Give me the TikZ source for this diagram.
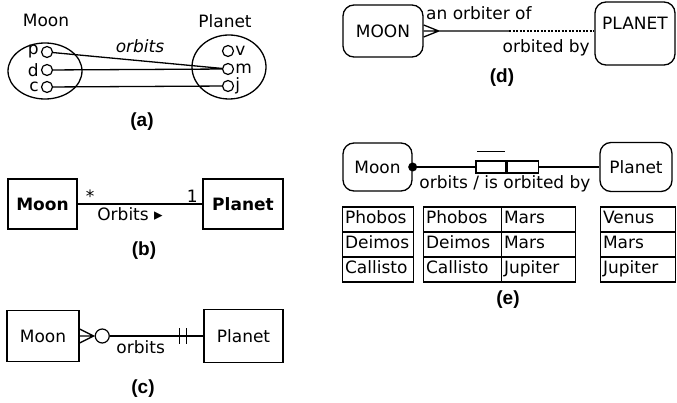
\documentclass[tikz,border=0pt]{standalone}
\usepackage{fontspec}
\setmainfont{DejaVu Sans}
\newfontfamily\tagfont{Liberation Sans}
\usetikzlibrary{calc}

\tikzset{
  txt/.style={font=\fontsize{17}{20}\selectfont,inner sep=1pt},
  itxt/.style={font=\fontsize{17}{20}\selectfont\itshape,inner sep=1pt},
  tag/.style={font=\fontsize{19}{22}\selectfont\tagfont\bfseries},
  ent/.style={draw,line width=1.3pt,font=\fontsize{17}{20}\selectfont},
  bent/.style={ent,font=\fontsize{17}{20}\selectfont\bfseries},
  rent/.style={ent,rounded corners=11pt},
  pin/.style={draw,circle,line width=1.2pt,minimum size=11pt,inner sep=0pt},
  rel/.style={line width=1.3pt},
  cell/.style={draw,line width=1.1pt,anchor=west,inner xsep=2.5pt,inner ysep=0pt,
    minimum height=25pt,text height=12.5pt,text depth=3.5pt,align=left,
    font=\fontsize{17}{20}\selectfont},
}

\begin{document}
\begin{tikzpicture}[x=1pt,y=-1pt]
 \useasboundingbox (0,0) rectangle (677,403);
 % ---- (a) sets
 \begin{scope}
  \draw[line width=1.3pt] (45,71) ellipse (37pt and 28pt);
  \draw[line width=1.3pt] (229,67) ellipse (37pt and 32pt);
  \node[txt] (moonA) at (46,20) {Moon};
  \node[txt] (planetA) at (225,21) {Planet};
  \node[pin,label={[txt,label distance=1pt]left:p}] (p) at (47,52) {};
  \node[pin,label={[txt,label distance=1pt]left:d}] (d) at (47,70) {};
  \node[pin,label={[txt,label distance=1pt]left:c}] (c) at (47,87) {};
  \node[pin,label={[txt,label distance=0pt]right:v}] (v) at (228,51) {};
  \node[pin,label={[txt,label distance=0pt]right:m}] (m) at (228,69) {};
  \node[pin,label={[txt,label distance=0pt]right:j}] (j) at (228,86) {};
  \draw[rel] (p) -- (m) (d) -- (m) (c) -- (j);
  \node[itxt] (orbA) at (140,46) {orbits};
  \node[tag] (tagA) at (142,122) {(a)};
 \end{scope}
 % ---- (b) uml
 \begin{scope}
  \node[bent,minimum width=69pt,minimum height=50pt] (moonB) at (42.5,204) {Moon};
  \node[bent,minimum width=80pt,minimum height=50pt] (planetB) at (243,204) {Planet};
  \draw[rel] (moonB) -- (planetB)
    node[txt,pos=0.1,above] {*}
    node[txt,pos=0.92,above] {1}
    node[txt,pos=0.42,below=2pt] {Orbits ▸};
  \node[tag] (tagB) at (144,251) {(b)};
 \end{scope}
 % ---- (c) crow's foot
 \begin{scope}
  \node[ent,minimum width=72pt,minimum height=51pt] (moonC) at (43,336) {Moon};
  \node[ent,minimum width=79pt,minimum height=53pt] (planetC) at (243.5,336) {Planet};
  \coordinate (toeC) at ($(moonC.east)+(14,0)$);
  \draw[rel] ($(moonC.east)+(0,-7)$) -- (toeC) -- ($(moonC.east)+(0,7)$) (moonC.east) -- (toeC);
  \node[pin,minimum size=14pt,anchor=west] (optC) at ($(toeC)+(1,0)$) {};
  \draw[rel] (optC) -- (planetC) node[txt,pos=0.33,below=3pt] {orbits};
  \draw[rel] ($(planetC.west)+(-24,-8)$) -- +(0,16) ($(planetC.west)+(-17,-8)$) -- +(0,16);
  \node[tag] (tagC) at (143,389) {(c)};
 \end{scope}
 % ---- (d) barker
 \begin{scope}
  \node[rent,minimum width=80pt,minimum height=52pt] (moonD) at (383,31) {MOON};
  \node[rent,minimum width=80pt,minimum height=63pt,text height=12pt,text depth=19pt] (planetD) at (635,33.5) {PLANET};
  \coordinate (toeD) at ($(moonD.east)+(15,0)$);
  \coordinate (endD) at (moonD.east -| planetD.west);
  \coordinate (midD) at ($(moonD.east)!0.5!(endD)$);
  \draw[rel] ($(moonD.east)+(0,-6)$) -- (toeD) -- ($(moonD.east)+(0,6)$) (moonD.east) -- (toeD) -- (midD);
  \draw[rel,dash pattern=on 2pt off 1.5pt] (midD) -- (endD);
  \node[txt,anchor=west] (ofD) at (425,13) {an orbiter of};
  \node[txt,anchor=east] (byD) at (591,48) {orbited by};
  \node[tag] (tagD) at (502,78) {(d)};
 \end{scope}
 % ---- (e) orm
 \begin{scope}
  \node[rent,minimum width=69pt,minimum height=48pt] (moonE) at (377.5,167) {Moon};
  \node[rent,minimum width=72pt,minimum height=49pt] (planetE) at (636,167) {Planet};
  \node[circle,fill,inner sep=0pt,minimum size=9pt] (dotE) at (moonE.east) {};
  \node[draw,line width=1.2pt,minimum width=30pt,minimum height=12pt,inner sep=0pt] (roleA) at (491,167) {};
  \node[draw,line width=1.2pt,minimum width=31pt,minimum height=12pt,inner sep=0pt,anchor=west] (roleB) at (roleA.east) {};
  \draw[rel] (dotE) -- (roleA) (roleB) -- (planetE);
  \draw[rel] ($(roleA.north west)+(2,-9)$) -- ($(roleA.north east)+(-2,-9)$);
  \node[txt] (readE) at (505,184) {orbits / is orbited by};
  % tables
  \node[cell,text width=66pt] (t1a) at (342,219.5) {Phobos};
  \node[cell,text width=66pt] (t1b) at (342,244.5) {Deimos};
  \node[cell,text width=66pt] (t1c) at (342,269.5) {Callisto};
  \node[cell,text width=73pt] (t2a) at (423,219.5) {Phobos};
  \node[cell,text width=73pt] (t2b) at (423,244.5) {Deimos};
  \node[cell,text width=73pt] (t2c) at (423,269.5) {Callisto};
  \node[cell,text width=69pt] (t2d) at (501,219.5) {Mars};
  \node[cell,text width=69pt] (t2e) at (501,244.5) {Mars};
  \node[cell,text width=69pt] (t2f) at (501,269.5) {Jupiter};
  \node[cell,text width=70pt] (t3a) at (600,219.5) {Venus};
  \node[cell,text width=70pt] (t3b) at (600,244.5) {Mars};
  \node[cell,text width=70pt] (t3c) at (600,269.5) {Jupiter};
  \node[tag] (tagE) at (508,300) {(e)};
 \end{scope}
\end{tikzpicture}
\end{document}
